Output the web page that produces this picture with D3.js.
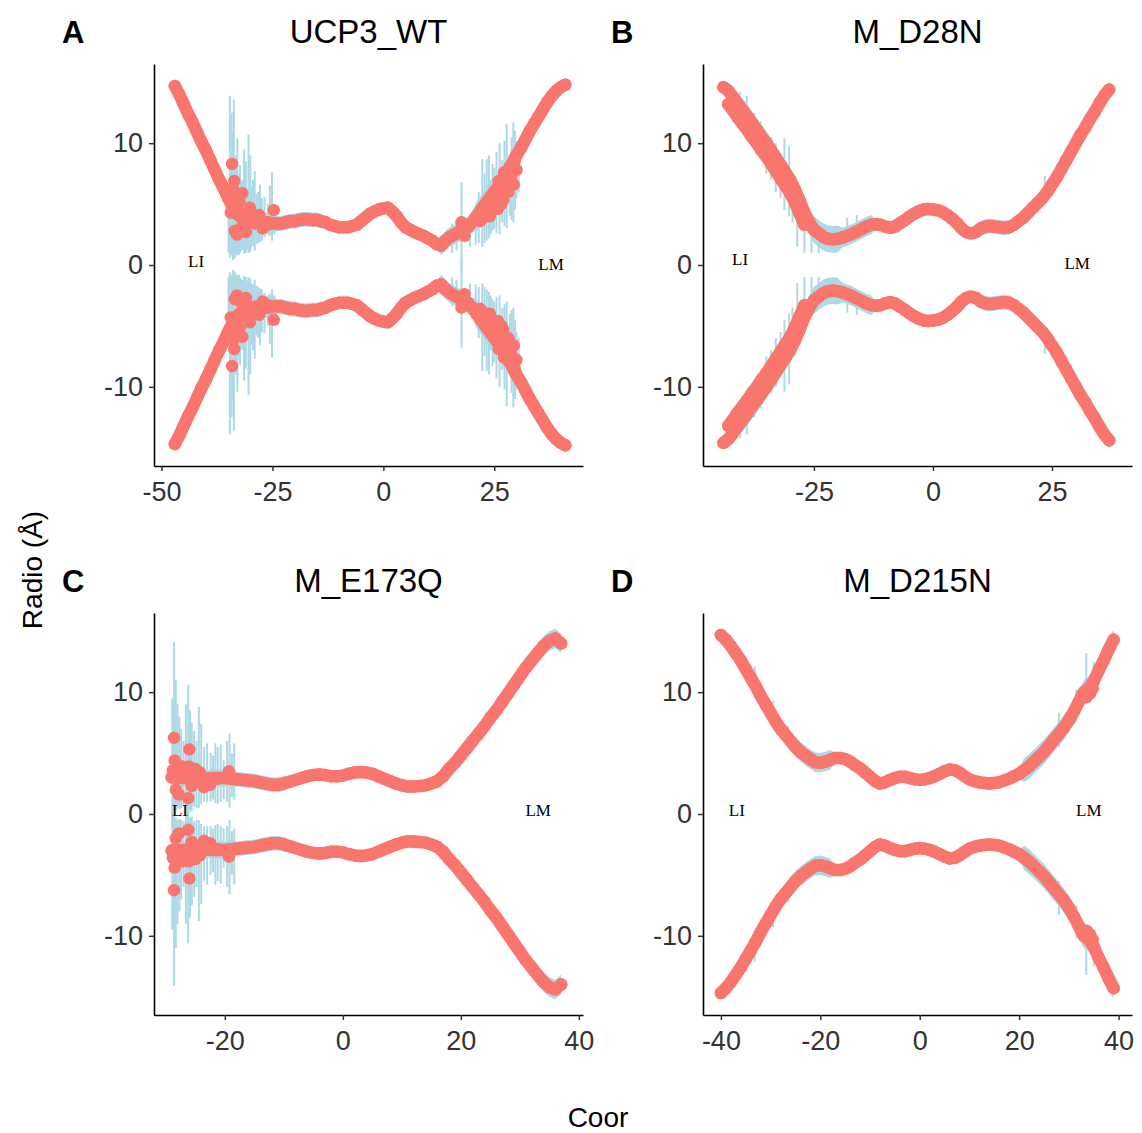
<!DOCTYPE html>
<html><head><meta charset="utf-8">
<script src="https://cdn.jsdelivr.net/npm/d3@7"></script>
<style>body{margin:0;background:#fff}</style>
</head><body>
<svg id="chart" width="1142" height="1133"></svg>
<script>
// ---------- DATA ----------
const panelTags = ["A", "B", "C", "D"];
const panelTitles = ["UCP3_WT", "M_D28N", "M_E173Q", "M_D215N"];
const yTicks = [-10, 0, 10];
const yDomain = [-16.5, 16.5];
const annotText = ["LI", "LM"];

// Panel A
const coorA = [-47,-46,-45,-44,-43,-42,-41,-40,-39,-38,-37,-36,-35,-34,-33,-32,-31,-30,-29,-28,-27,-26,-25,-24,-23,-22,-21,-20,-19,-18,-17,-16,-15,-14,-13,-12,-11,-10,-9,-8,-7,-6,-5,-4,-3,-2,-1,0,1,2,3,4,5,6,7,8,9,10,11,12,13,14,15,16,17,18,19,20,21,22,23,24,25,26,27,28,29,30,31,32,33,34,35,36,37,38,39,40,41];
const radA = [14.7,14.0,13.2,12.4,11.7,10.9,10.1,9.4,8.6,7.8,7.0,6.3,5.5,4.8,4.2,3.9,3.7,3.6,3.6,3.5,3.5,3.5,3.4,3.4,3.4,3.5,3.6,3.6,3.7,3.75,3.75,3.7,3.7,3.6,3.5,3.3,3.2,3.1,3.1,3.1,3.2,3.3,3.6,3.9,4.2,4.4,4.55,4.65,4.7,4.4,4.0,3.5,3.1,2.9,2.7,2.55,2.4,2.2,2.0,1.7,1.6,2.0,2.3,2.5,2.7,2.9,3.1,3.5,4.0,4.5,5.0,5.5,6.0,6.5,7.0,7.6,8.3,9.0,9.6,10.3,11.0,11.6,12.2,12.8,13.4,13.9,14.3,14.6,14.8];
const sdA = [0.3,0.3,0.3,0.3,0.3,0.3,0.3,0.3,0.3,0.3,0.3,0.3,0.8,0.8,0.8,0.8,0.8,0.8,0.8,0.8,0.8,0.8,0.8,0.6,0.6,0.6,0.6,0.6,0.6,0.6,0.6,0.6,0.6,0.6,0.4,0.4,0.4,0.4,0.4,0.4,0.4,0.4,0.4,0.4,0.4,0.4,0.4,0.4,0.4,0.4,0.4,0.4,0.4,0.4,0.4,0.4,0.4,0.4,0.4,0.4,0.8,0.8,0.8,0.8,0.8,0.8,0.8,0.8,1.2,1.2,1.2,1.2,1.2,1.2,1.2,1.2,1.2,1.2,0.4,0.4,0.4,0.4,0.4,0.4,0.4,0.4,0.4,0.4,0.4];
const spikeXA = [-34.9,-34.6,-34.2,-33.9,-33.7,-33.4,-33.2,-32.9,-32.6,-32.3,-32.0,-31.7,-31.4,-31.0,-30.7,-30.4,-30.0,-29.8,-29.4,-29.0,-28.6,-28.2,-27.8,-27.4,-26.8,-26.0,-25.6,-25.1,-24.6,15.5,16.5,17.6,19.5,20.8,21.5,22.3,22.8,23.3,23.8,24.2,24.6,25.0,25.5,26.2,26.8,27.3,27.8,28.5,28.9,29.3,29.7,30.0,30.5];
const spikeLoA = [1.0,0.6,0.8,0.4,0.5,0.6,1.0,0.8,0.8,1.0,1.2,1.2,0.9,1.0,1.3,1.0,1.1,1.5,1.6,1.2,1.7,1.8,1.9,2.0,2.3,2.5,2.4,2.0,2.5,1.0,1.2,-0.5,1.5,1.6,1.8,1.5,1.8,2.0,2.2,2.5,2.8,3.0,2.6,2.5,3.5,3.2,3.0,4.0,3.7,3.5,4.5,5.5,6.0];
const spikeHiA = [6.0,13.9,12.5,11.0,13.6,8.0,9.0,10.4,7.5,8.2,6.8,7.0,9.5,8.5,6.2,10.7,9.0,6.5,7.0,7.7,5.8,6.0,6.6,5.5,5.6,5.0,6.5,7.6,4.8,3.4,3.6,6.8,4.0,4.5,6.0,8.7,7.5,8.7,9.0,7.0,8.3,8.0,9.3,10.0,8.6,10.2,11.6,9.0,10.5,11.7,11.0,9.5,10.0];
const extraXA = [-34.1,-33.6,-33.9,-33.2,-32.4,-31.8,-30.1,-29.5,-33.5,-33.0,-32.2,-31.0,-30.5,-29.0,-28.0,-27.2,-26.0,-24.7,-34.4,-32.8,17.6,18.3,21.8,22.6,23.4,24.0,24.6,25.2,25.8,26.4,27.0,27.6,28.2,28.8,29.4,30.0,26.0,27.2,28.4,29.6,23.0,24.8,26.6];
const extraRA = [8.3,6.9,6.2,5.6,5.2,5.9,4.7,4.0,2.8,2.5,3.0,2.7,4.2,3.4,4.1,3.0,3.3,4.5,4.3,4.5,3.5,2.4,3.6,3.9,4.4,4.0,4.9,5.5,4.6,5.9,5.3,6.5,6.0,7.2,6.6,7.8,6.9,7.6,8.0,8.5,4.8,5.8,5.0];
const xTicksA = [-50, -25, 0, 25];
const xDomainA = [-51.7, 45.0];
const annotXA = [-42.2, 37.8];
const annotYA = [0.3, 0.1];

// Panel B
const coorB = [-44,-43,-42,-41,-40,-39,-38,-37,-36,-35,-34,-33,-32,-31,-30,-29,-28,-27,-26,-25,-24,-23,-22,-21,-20,-19,-18,-17,-16,-15,-14,-13,-12,-11,-10,-9,-8,-7,-6,-5,-4,-3,-2,-1,0,1,2,3,4,5,6,7,8,9,10,11,12,13,14,15,16,17,18,19,20,21,22,23,24,25,26,27,28,29,30,31,32,33,34,35,36,37];
const radB = [14.6,14.3,13.8,13.2,12.7,12.2,11.6,11.1,10.5,10.0,9.4,8.8,8.2,7.6,7.0,6.2,5.3,4.3,3.5,2.9,2.6,2.3,2.15,2.1,2.15,2.25,2.4,2.55,2.75,2.95,3.15,3.3,3.35,3.3,3.15,3.05,3.15,3.4,3.65,3.95,4.2,4.4,4.55,4.6,4.55,4.5,4.35,4.1,3.8,3.45,3.0,2.7,2.6,2.7,3.0,3.15,3.2,3.15,3.1,3.05,3.1,3.3,3.6,3.9,4.3,4.7,5.1,5.5,6.0,6.6,7.2,7.9,8.6,9.3,10.0,10.7,11.3,12.0,12.6,13.3,13.9,14.4];
const sdB = [0.6,0.6,0.6,0.6,1.0,1.0,1.0,1.0,1.0,1.0,1.0,1.0,1.0,1.0,1.0,1.0,1.0,1.0,1.0,1.1,1.1,1.1,1.1,1.1,1.1,0.8,0.8,0.8,0.8,0.8,0.8,0.8,0.4,0.4,0.4,0.4,0.4,0.4,0.4,0.4,0.4,0.4,0.4,0.4,0.4,0.4,0.4,0.4,0.4,0.4,0.4,0.4,0.4,0.4,0.6,0.6,0.6,0.6,0.6,0.6,0.6,0.4,0.4,0.4,0.4,0.4,0.4,0.7,0.7,0.7,0.7,0.7,0.7,0.7,0.7,0.7,0.4,0.4,0.4,0.4,0.4,0.4];
const spikeXB = [-42.0,-40.5,-39.1,-37.5,-36.2,-35.0,-34.0,-33.0,-32.0,-31.2,-30.2,-29.5,-28.5,-27.0,-25.5,-24.0,-18.0,-16.0,23.5,30.5];
const spikeLoB = [12.0,11.5,10.5,9.5,9.0,7.5,7.0,6.0,5.5,4.5,4.0,3.5,1.5,1.0,1.0,1.0,1.8,2.2,5.0,9.6];
const spikeHiB = [14.4,14.2,13.9,12.5,11.8,10.8,10.5,10.0,9.2,10.4,9.8,7.5,6.0,4.5,4.0,3.5,3.9,4.1,7.3,11.0];
const extraXB = [-43,-42,-41,-40,-39,-38,-37,-36,-35,-34,-33,-32,-31,-30,-29,-28,-27];
const extraRB = [13.2,12.7,12.1,11.6,11.1,10.5,10.0,9.4,8.9,8.3,7.7,7.1,6.5,5.9,5.1,4.2,3.3];
const xTicksB = [-25, 0, 25];
const xDomainB = [-48.3, 41.8];
const annotXB = [-40.5, 30.3];
const annotYB = [0.5, 0.2];

// Panel C
const coorC = [-29,-28,-27,-26,-25,-24,-23,-22,-21,-20,-19,-18,-17,-16,-15,-14,-13,-12,-11,-10,-9,-8,-7,-6,-5,-4,-3,-2,-1,0,1,2,3,4,5,6,7,8,9,10,11,12,13,14,15,16,17,18,19,20,21,22,23,24,25,26,27,28,29,30,31,32,33,34,35,36,37];
const radC = [3.0,3.0,2.95,2.95,2.9,2.9,2.9,2.95,2.95,2.95,2.9,2.85,2.8,2.75,2.7,2.6,2.5,2.4,2.4,2.5,2.65,2.8,2.95,3.1,3.2,3.25,3.2,3.1,3.1,3.15,3.3,3.4,3.45,3.4,3.3,3.1,2.9,2.7,2.5,2.35,2.25,2.25,2.3,2.35,2.5,2.7,3.1,3.7,4.2,4.8,5.4,6.0,6.6,7.2,7.9,8.5,9.2,9.9,10.6,11.3,12.0,12.6,13.2,13.8,14.2,14.4,14.0];
const sdC = [0.7,0.7,0.7,0.7,0.7,0.7,0.7,0.7,0.7,0.7,0.7,0.6,0.6,0.6,0.6,0.6,0.6,0.6,0.6,0.6,0.45,0.45,0.45,0.45,0.45,0.45,0.45,0.45,0.45,0.45,0.45,0.45,0.45,0.45,0.45,0.45,0.45,0.45,0.45,0.45,0.45,0.45,0.45,0.45,0.45,0.45,0.45,0.6,0.6,0.6,0.6,0.6,0.6,0.6,0.6,0.6,0.6,0.6,0.6,0.6,0.6,0.6,0.6,0.8,0.8,0.8,0.8];
const spikeXC = [-28.9,-28.6,-28.3,-28.0,-27.7,-27.4,-27.0,-26.6,-26.2,-25.9,-25.6,-25.2,-24.8,-24.4,-24.0,-23.5,-23.0,-22.4,-22.0,-21.6,-21.2,-20.7,-20.2,-19.6,-19.2,-18.8,-18.4];
const spikeLoC = [-1.0,-2.0,0.3,0.5,0.4,0.5,0.6,0.0,-1.0,0.3,0.2,0.6,0.5,0.5,0.8,1.0,1.0,1.0,1.2,0.9,0.8,1.0,1.2,1.0,0.5,1.4,1.2];
const spikeHiC = [9.5,14.1,11.0,9.0,8.0,7.0,6.0,9.0,10.6,8.5,7.5,6.8,6.0,8.8,7.4,5.5,5.8,5.0,4.8,5.8,5.5,5.7,4.4,6.0,6.6,5.0,5.8];
const extraXC = [-28.6,-28.5,-28.8,-28.3,-27.8,-26.0,-26.1,-26.2,-25.6,-24.2,-23.5,-21.2,-19.3,-27.2,-25.0,-22.5];
const extraRC = [6.25,4.4,3.6,2.0,1.6,5.3,3.9,1.3,2.3,3.4,2.2,2.9,3.5,3.9,3.7,2.4];
const xTicksC = [-20, 0, 20, 40];
const xDomainC = [-32.0, 40.7];
const annotXC = [-27.6, 33.1];
const annotYC = [0.3, 0.3];

// Panel D
const coorD = [-40,-39,-38,-37,-36,-35,-34,-33,-32,-31,-30,-29,-28,-27,-26,-25,-24,-23,-22,-21,-20,-19,-18,-17,-16,-15,-14,-13,-12,-11,-10,-9,-8,-7,-6,-5,-4,-3,-2,-1,0,1,2,3,4,5,6,7,8,9,10,11,12,13,14,15,16,17,18,19,20,21,22,23,24,25,26,27,28,29,30,31,32,33,34,35,36,37,38,39];
const radD = [14.7,14.3,13.8,13.2,12.6,11.9,11.2,10.5,9.7,9.0,8.3,7.6,7.0,6.5,6.0,5.5,5.1,4.8,4.5,4.25,4.2,4.3,4.45,4.6,4.6,4.5,4.3,4.0,3.75,3.4,3.05,2.7,2.5,2.6,2.8,2.95,3.05,3.05,2.95,2.85,2.8,2.85,2.95,3.1,3.3,3.5,3.65,3.6,3.4,3.1,2.85,2.7,2.6,2.55,2.5,2.55,2.6,2.75,2.9,3.1,3.3,3.6,3.9,4.3,4.7,5.1,5.6,6.1,6.6,7.1,7.7,8.4,9.2,10.0,10.3,10.9,11.8,12.6,13.5,14.3];
const sdD = [0.4,0.4,0.4,0.4,0.4,0.4,0.4,0.4,0.4,0.4,0.4,0.4,0.4,0.8,0.8,0.8,0.8,0.8,0.8,0.8,0.8,0.8,0.8,0.4,0.4,0.4,0.4,0.4,0.4,0.4,0.4,0.4,0.4,0.4,0.4,0.4,0.4,0.4,0.4,0.4,0.4,0.4,0.4,0.4,0.4,0.4,0.4,0.4,0.4,0.4,0.4,0.4,0.4,0.4,0.4,0.4,0.4,0.4,0.4,0.4,0.4,1.0,1.0,1.0,1.0,1.0,1.0,1.0,1.0,1.0,1.0,1.0,1.0,1.0,1.0,1.0,1.0,1.0,0.6,0.6];
const spikeXD = [-33.2,-29.5,-26.5,28.0,31.5,33.5,35.0,38.8];
const spikeLoD = [10.0,7.0,5.6,5.5,7.5,9.0,9.5,13.5];
const spikeHiD = [12.1,9.3,7.2,8.3,10.2,13.2,12.5,15.0];
const extraXD = [33.6,34.3,34.8];
const extraRD = [9.6,9.9,10.3];
const xTicksD = [-40, -20, 0, 20, 40];
const xDomainD = [-43.6, 42.7];
const annotXD = [-36.8, 34.0];
const annotYD = [0.3, 0.3];

// ---------- BUILD ----------
const panels = [
  {coor: coorA, rad: radA, sd: sdA, spX: spikeXA, spLo: spikeLoA, spHi: spikeHiA, exX: extraXA, exR: extraRA, ticks: xTicksA, dom: xDomainA, aX: annotXA, aY: annotYA, link: false},
  {coor: coorB, rad: radB, sd: sdB, spX: spikeXB, spLo: spikeLoB, spHi: spikeHiB, exX: extraXB, exR: extraRB, ticks: xTicksB, dom: xDomainB, aX: annotXB, aY: annotYB, link: true},
  {coor: coorC, rad: radC, sd: sdC, spX: spikeXC, spLo: spikeLoC, spHi: spikeHiC, exX: extraXC, exR: extraRC, ticks: xTicksC, dom: xDomainC, aX: annotXC, aY: annotYC, link: false},
  {coor: coorD, rad: radD, sd: sdD, spX: spikeXD, spLo: spikeLoD, spHi: spikeHiD, exX: extraXD, exR: extraRD, ticks: xTicksD, dom: xDomainD, aX: annotXD, aY: annotYD, link: false}
];

const FONT = "'Liberation Sans', Arial, Helvetica, sans-serif";
const RED = "#F8766D", BLUE = "#ADD8E6";
const layout = [{left: 154, top: 64}, {left: 703, top: 64}, {left: 154, top: 613}, {left: 703, top: 613}];
const plotW = 429, plotH = 402;
const svg = d3.select("#chart");
svg.append("rect").attr("width", 1142).attr("height", 1133).attr("fill", "#fff");

panels.forEach((p, k) => {
  const L = layout[k];
  const x = d3.scaleLinear().domain(p.dom).range([L.left, L.left + plotW]);
  const y = d3.scaleLinear().domain(yDomain).range([L.top + plotH, L.top]);
  const g = svg.append("g");
  const pts = p.coor.map((c, i) => ({c: c, r: p.rad[i], s: p.sd[i]}));
  const ex = p.exX.map((c, i) => ({c: c, r: p.exR[i]}));

  // error bands (dense error bars)
  [1, -1].forEach(sign => {
    const area = d3.area()
      .x(d => x(d.c))
      .y0(d => y(sign * (d.r - d.s)))
      .y1(d => y(sign * (d.r + d.s)));
    g.append("path").datum(pts).attr("d", area).attr("fill", BLUE);
  });
  // tall error bars
  [1, -1].forEach(sign => {
    g.selectAll(null).data(p.spX.map((sx, i) => ({c: sx, lo: p.spLo[i], hi: p.spHi[i]})))
      .join("line")
      .attr("x1", d => x(d.c)).attr("x2", d => x(d.c))
      .attr("y1", d => y(sign * d.lo)).attr("y2", d => y(sign * d.hi))
      .attr("stroke", BLUE).attr("stroke-width", 2);
  });
  // points
  [1, -1].forEach(sign => {
    const line = d3.line().x(d => x(d.c)).y(d => y(sign * d.r));
    g.append("path").datum(pts).attr("d", line).attr("fill", "none")
      .attr("stroke", RED).attr("stroke-width", 12.5)
      .attr("stroke-linejoin", "round").attr("stroke-linecap", "round");
    if (p.link) {
      g.append("path").datum(ex).attr("d", line).attr("fill", "none")
        .attr("stroke", RED).attr("stroke-width", 12.5)
        .attr("stroke-linejoin", "round").attr("stroke-linecap", "round");
    }
    g.selectAll(null).data(pts).join("circle")
      .attr("cx", d => x(d.c)).attr("cy", d => y(sign * d.r)).attr("r", 6.25).attr("fill", RED);
    g.selectAll(null).data(ex).join("circle")
      .attr("cx", d => x(d.c)).attr("cy", d => y(sign * d.r)).attr("r", 6.25).attr("fill", RED);
  });

  // annotations
  g.selectAll(null).data(annotText).join("text")
    .attr("x", (d, i) => x(p.aX[i])).attr("y", (d, i) => y(p.aY[i]))
    .attr("dy", "0.35em").attr("text-anchor", "middle")
    .attr("font-family", "'Liberation Serif', 'Times New Roman', serif")
    .attr("font-size", 17).attr("fill", "#000").text(d => d);

  // axes
  const xAxis = d3.axisBottom(x).tickValues(p.ticks).tickSize(5).tickSizeOuter(0).tickPadding(11).tickFormat(d => String(d));
  const yAxis = d3.axisLeft(y).tickValues(yTicks).tickSize(5).tickSizeOuter(0).tickPadding(6).tickFormat(d => String(d));
  const gx = svg.append("g").attr("transform", `translate(0,${L.top + plotH})`).call(xAxis);
  const gy = svg.append("g").attr("transform", `translate(${L.left},0)`).call(yAxis);
  [gx, gy].forEach(a => {
    a.attr("font-family", FONT).attr("font-size", 27);
    a.select(".domain").attr("stroke", "#000").attr("stroke-width", 1.6);
    a.selectAll(".tick line").attr("stroke", "#333").attr("stroke-width", 1.5);
    a.selectAll(".tick text").attr("fill", "#333");
  });

  // title and tag
  svg.append("text").attr("x", L.left + plotW / 2).attr("y", L.top - 21)
    .attr("text-anchor", "middle").attr("font-family", FONT).attr("font-size", 33)
    .attr("fill", "#000").text(panelTitles[k]);
  svg.append("text").attr("x", L.left - 92).attr("y", L.top - 21)
    .attr("font-family", FONT).attr("font-size", 31).attr("font-weight", "bold")
    .attr("fill", "#000").text(panelTags[k]);
});

// axis titles
svg.append("text").attr("transform", "translate(42,570) rotate(-90)")
  .attr("text-anchor", "middle").attr("font-family", FONT).attr("font-size", 28)
  .attr("fill", "#000").text("Radio (Å)");
svg.append("text").attr("x", 598).attr("y", 1127)
  .attr("text-anchor", "middle").attr("font-family", FONT).attr("font-size", 28)
  .attr("fill", "#000").text("Coor");
</script>
</body></html>
